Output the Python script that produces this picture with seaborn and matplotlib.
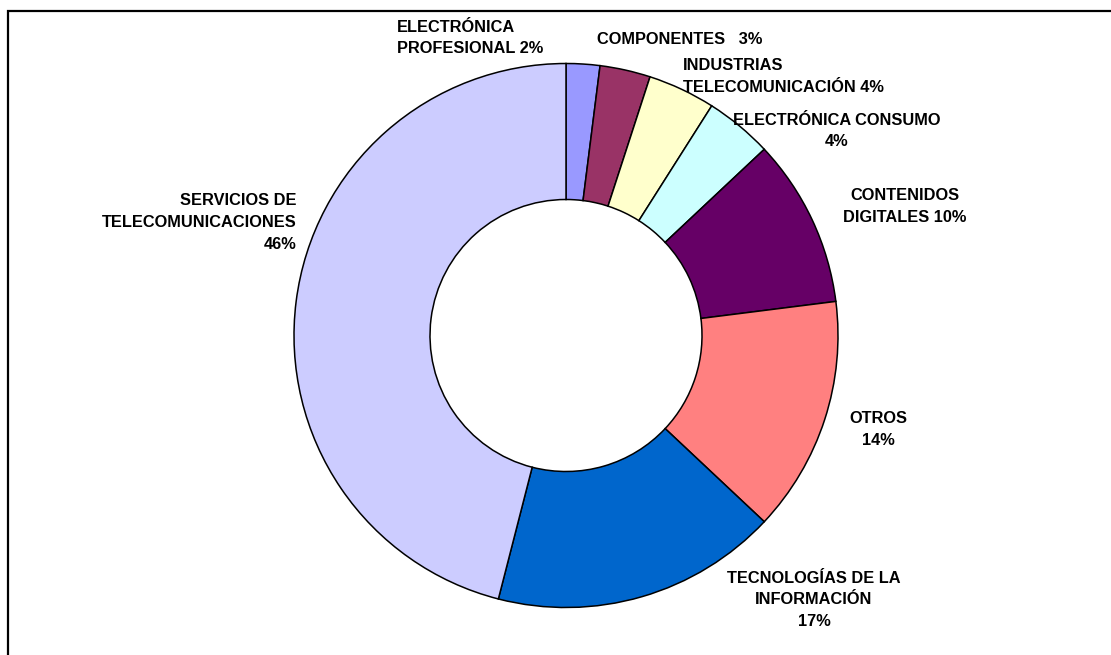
import matplotlib
matplotlib.use("Agg")
import matplotlib.pyplot as plt
from matplotlib.patches import Rectangle
import seaborn as sns

# Sector shares of the ICT / digital economy (percent)
categories = [
    "ELECTRÓNICA\nPROFESIONAL",
    "COMPONENTES ",
    "INDUSTRIAS\nTELECOMUNICACIÓN",
    "ELECTRÓNICA CONSUMO",
    "CONTENIDOS\nDIGITALES",
    "OTROS",
    "TECNOLOGÍAS DE LA\nINFORMACIÓN",
    "SERVICIOS DE\nTELECOMUNICACIONES",
]
shares = [2, 3, 4, 4, 10, 14, 17, 46]
separators = [" ", "  ", " ", "\n", " ", "\n", "\n", "\n"]
colors = ["#9999FF", "#993366", "#FFFFCC", "#CCFFFF",
          "#660066", "#FF8080", "#0066CC", "#CCCCFF"]

sns.set_theme(style="white")
plt.rcParams["font.family"] = ["Liberation Sans", "DejaVu Sans"]

W, H = 1111, 655
fig = plt.figure(figsize=(W / 100, H / 100), dpi=100)
fig.patch.set_facecolor("white")

# Donut centred at (566, 335.5) px with outer radius 272 px
cx, cy, R = 566, 335.5, 272
ax = fig.add_axes([(cx - R) / W, (H - cy - R) / H, 2 * R / W, 2 * R / H])
palette = sns.color_palette(colors)
ax.pie(shares, colors=palette, startangle=90, counterclock=False,
       radius=1.0,
       wedgeprops=dict(width=0.5, edgecolor="black", linewidth=1.1))
ax.set_xlim(-1, 1)
ax.set_ylim(-1, 1)
ax.set_aspect("equal")
ax.axis("off")

# Label anchors in figure pixels: (x, y, horizontal alignment)
anchors = [
    (397, 38, "left"),
    (597, 39, "left"),
    (683, 76.5, "left"),
    (837, 131, "center"),
    (905, 206.5, "center"),
    (878, 429.5, "center"),
    (814, 600, "center"),
    (297, 222.5, "right"),
]
for name, val, sep, (x, y, ha) in zip(categories, shares, separators, anchors):
    fig.text(x / W, 1 - y / H, f"{name}{sep}{val}%", ha=ha, va="center",
             multialignment=ha, fontsize=11.8, fontweight="bold",
             color="black", linespacing=1.55)

# Chart area border
fig.patches.append(Rectangle((8 / W, -0.1), 1.2, (H - 11) / H + 0.1,
                             transform=fig.transFigure, fill=False,
                             edgecolor="black", linewidth=1.6))

fig.savefig("out.png", dpi=100)
